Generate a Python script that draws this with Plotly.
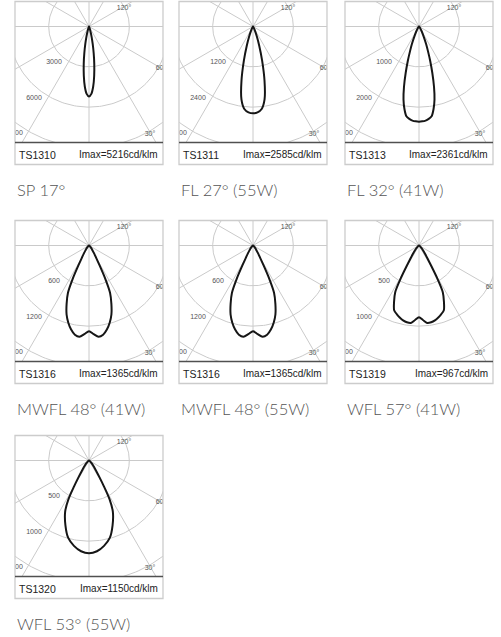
import numpy as np
import plotly.graph_objects as go

W, H = 501, 637

# Photometric data, C0-C180 plane: gamma in degrees from nadir, intensity in cd/klm
gamma_ts1310 = [0, 2, 4, 6, 8, 10, 12, 14, 16, 18, 20, 25, 30, 40, 60, 90]
cd_ts1310 = [5216, 5020, 4480, 3690, 2820, 2000, 1310, 800, 450, 235, 115, 40, 15, 5, 2, 0]

gamma_ts1311 = [0, 3, 6, 9, 12, 15, 18, 21, 24, 27, 30, 35, 40, 50, 60, 90]
cd_ts1311 = [2585, 2560, 2470, 2200, 1650, 1050, 600, 320, 160, 80, 40, 18, 10, 5, 3, 0]

gamma_ts1313 = [0, 2, 4, 6, 8, 10, 12, 14, 16, 18, 20, 22, 26, 30, 36, 40, 50, 60, 90]
cd_ts1313 = [2361, 2355, 2340, 2305, 2250, 2080, 1850, 1540, 1200, 900, 650, 470, 230, 115, 40, 20, 8, 4, 0]

gamma_ts1316 = [0, 3, 6, 9, 12, 15, 18, 21, 24, 26, 28, 30, 33, 36, 40, 45, 50, 60, 70, 90]
cd_ts1316 = [1275, 1320, 1365, 1345, 1280, 1190, 1080, 930, 770, 560, 340, 220, 140, 90, 55, 30, 18, 8, 4, 0]

gamma_ts1319 = [0, 3, 6, 9, 12, 15, 18, 21, 24, 27, 29, 31, 33, 36, 40, 45, 50, 60, 70, 90]
cd_ts1319 = [890, 925, 967, 965, 950, 925, 895, 860, 760, 650, 470, 300, 200, 130, 80, 45, 25, 10, 5, 0]

gamma_ts1320 = [0, 5, 10, 15, 20, 25, 28, 30, 32, 35, 40, 45, 50, 60, 70, 90]
cd_ts1320 = [1150, 1130, 1075, 995, 855, 700, 540, 370, 250, 150, 80, 45, 25, 10, 5, 0]

codes = ["TS1310", "TS1311", "TS1313", "TS1316", "TS1316", "TS1319", "TS1320"]
captions = ["SP 17°", "FL 27° (55W)", "FL 32° (41W)", "MWFL 48° (41W)",
            "MWFL 48° (55W)", "WFL 57° (41W)", "WFL 53° (55W)"]
imax = [5216, 2585, 2361, 1365, 1365, 967, 1150]
ring_step = [3000, 1200, 1000, 600, 600, 500, 500]
gammas = [gamma_ts1310, gamma_ts1311, gamma_ts1313, gamma_ts1316, gamma_ts1316, gamma_ts1319, gamma_ts1320]
intensities = [cd_ts1310, cd_ts1311, cd_ts1313, cd_ts1316, cd_ts1316, cd_ts1319, cd_ts1320]
angle_labels = ["120°", "60°", "30°"]

# Layout in pixels
COL_X = [15, 179, 345]
ROW_Y = [1.5, 220.5, 435.5]
BOX_W = 148
POLAR_H = 141
STRIP_H = 22
CX_OFF = 74          # origin offset from the box's left edge
CY_OFF = 25          # origin offset from the box's top edge
PX_PER_RING = 40.3

GRID = "#cacaca"
LABEL_FONT = dict(family="Liberation Sans", size=7, color="#555555")

# pixel offsets (from origin) of the ring and angle labels
RING_LABEL_PX = [(-35, 36), (-55, 72), (-74, 107)]
ANGLE_LABEL_PX = [(35, -18), (72, 42), (61, 108)]


def px(x):
    return x / W


def py(y):
    return 1 - y / H


fig = go.Figure()
layout = dict(
    width=W, height=H, margin=dict(l=0, r=0, t=0, b=0),
    paper_bgcolor="white", plot_bgcolor="white", showlegend=False,
    shapes=[], annotations=[],
)

for i in range(len(codes)):
    n = i + 1
    col, row = i % 3, i // 3
    left, top = COL_X[col], ROW_Y[row]
    step = ring_step[i]
    s = step / PX_PER_RING  # cd/klm per pixel
    xa, ya = ("x" if n == 1 else f"x{n}"), ("y" if n == 1 else f"y{n}")
    xkey, ykey = ("xaxis" if n == 1 else f"xaxis{n}"), ("yaxis" if n == 1 else f"yaxis{n}")

    layout[xkey] = dict(domain=[px(left), px(left + BOX_W)],
                        range=[-CX_OFF * s, (BOX_W - CX_OFF) * s],
                        visible=False, fixedrange=True)
    layout[ykey] = dict(domain=[py(top + POLAR_H), py(top)],
                        range=[-(POLAR_H - CY_OFF) * s, CY_OFF * s],
                        visible=False, fixedrange=True)

    # radial rays every 30 degrees
    R = 6 * step
    rx, ry = [], []
    for a in range(-150, 181, 30):
        t = np.radians(a)
        rx += [0, R * np.sin(t), None]
        ry += [0, -R * np.cos(t), None]
    fig.add_trace(go.Scatter(x=rx, y=ry, mode="lines", xaxis=xa, yaxis=ya,
                             line=dict(color=GRID, width=1), hoverinfo="skip"))

    # concentric intensity rings
    t = np.linspace(0, 2 * np.pi, 241)
    cx, cy = [], []
    for k in range(1, 5):
        cx += list(k * step * np.cos(t)) + [None]
        cy += list(k * step * np.sin(t)) + [None]
    fig.add_trace(go.Scatter(x=cx, y=cy, mode="lines", xaxis=xa, yaxis=ya,
                             line=dict(color=GRID, width=1), hoverinfo="skip"))

    # ring values and angle labels (clipped by the plot area)
    tx, ty, tt = [], [], []
    for k, (dx, dy) in enumerate(RING_LABEL_PX, start=1):
        tx.append(dx * s); ty.append(-dy * s); tt.append(str(k * step))
    for lab, (dx, dy) in zip(angle_labels, ANGLE_LABEL_PX):
        tx.append(dx * s); ty.append(-dy * s); tt.append(lab)
    fig.add_trace(go.Scatter(x=tx, y=ty, text=tt, mode="text", xaxis=xa, yaxis=ya,
                             textfont=LABEL_FONT, cliponaxis=True, hoverinfo="skip"))

    # luminous intensity curve, mirrored about nadir
    g = np.array(gammas[i], dtype=float)
    c = np.array(intensities[i], dtype=float)
    gf = np.concatenate([-g[::-1], g[1:]])
    cf = np.concatenate([c[::-1], c[1:]])
    th = np.radians(gf)
    fig.add_trace(go.Scatter(x=cf * np.sin(th), y=-cf * np.cos(th), mode="lines",
                             xaxis=xa, yaxis=ya, line=dict(color="#161616", width=2.0,
                                                           shape="spline", smoothing=0.8),
                             hoverinfo="skip"))

    # frame, separator and footer texts
    layout["shapes"].append(dict(type="rect", xref="paper", yref="paper",
                                 x0=px(left), x1=px(left + BOX_W),
                                 y0=py(top + POLAR_H + STRIP_H), y1=py(top),
                                 line=dict(color="#cccccc", width=1.3)))
    layout["shapes"].append(dict(type="line", xref="paper", yref="paper",
                                 x0=px(left), x1=px(left + BOX_W),
                                 y0=py(top + POLAR_H), y1=py(top + POLAR_H),
                                 line=dict(color="#505050", width=1.5)))
    layout["annotations"].append(dict(text=codes[i], xref="paper", yref="paper",
                                      x=px(left + 2), y=py(top + 153), xanchor="left",
                                      yanchor="middle", showarrow=False,
                                      font=dict(family="Liberation Sans", size=10.5, color="#222222")))
    layout["annotations"].append(dict(text=f"Imax={imax[i]}cd/klm", xref="paper", yref="paper",
                                      x=px(left + BOX_W - 3), y=py(top + 153), xanchor="right",
                                      yanchor="middle", showarrow=False,
                                      font=dict(family="Liberation Sans", size=10, color="#222222")))
    layout["annotations"].append(dict(text=captions[i], xref="paper", yref="paper",
                                      x=px(left), y=py(top + 188), xanchor="left",
                                      yanchor="middle", showarrow=False,
                                      font=dict(family="Lato", size=16.5, weight=300, color="#555555")))

fig.update_layout(**layout)
fig.write_html("out.html")
